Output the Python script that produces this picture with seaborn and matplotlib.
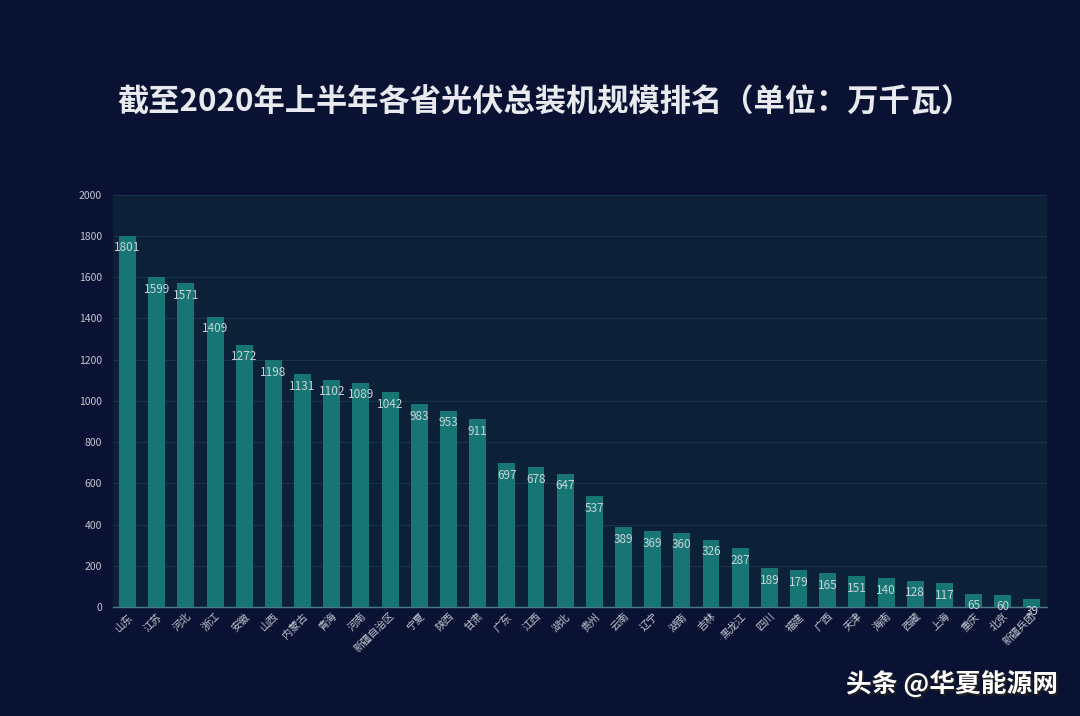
import matplotlib
matplotlib.use("Agg")
import matplotlib.pyplot as plt
import seaborn as sns
import pandas as pd

provinces = ["山东", "江苏", "河北", "浙江", "安徽", "山西", "内蒙古", "青海", "河南", "新疆自治区",
             "宁夏", "陕西", "甘肃", "广东", "江西", "湖北", "贵州", "云南", "辽宁", "湖南",
             "吉林", "黑龙江", "四川", "福建", "广西", "天津", "海南", "西藏", "上海", "重庆",
             "北京", "新疆兵团"]
capacity = [1801, 1599, 1571, 1409, 1272, 1198, 1131, 1102, 1089, 1042,
            983, 953, 911, 697, 678, 647, 537, 389, 369, 360,
            326, 287, 189, 179, 165, 151, 140, 128, 117, 65,
            60, 39]
y_ticks = [0, 200, 400, 600, 800, 1000, 1200, 1400, 1600, 1800, 2000]
title = "截至2020年上半年各省光伏总装机规模排名（单位：万千瓦）"
watermark = "头条 @华夏能源网"

sns.set_theme(style="dark")
plt.rcParams['font.family'] = ['Noto Sans CJK SC', 'DejaVu Sans']

df = pd.DataFrame({"province": provinces, "capacity": capacity})

fig = plt.figure(figsize=(10.8, 7.16), dpi=100, facecolor="#0a1233")
ax = fig.add_axes([0.1046, 0.152, 0.8644, 0.576])
ax.set_facecolor("#0c2038")

sns.barplot(data=df, x="province", y="capacity", color="#177674", width=0.58,
            saturation=1, linewidth=0, edgecolor="none", ax=ax, zorder=3)

for p, v in zip(ax.patches, capacity):
    ax.annotate(str(v), (p.get_x() + p.get_width() / 2, p.get_height()),
                xytext=(0, -4), textcoords="offset points", ha="center", va="top",
                fontsize=8.5, color="#c8d2d8", zorder=4)

ax.set_ylim(0, 2000)
ax.set_yticks(y_ticks)
ax.set_xlim(-0.5, len(provinces) - 0.5)
ax.yaxis.grid(True, color="#17344a", linewidth=0.8, zorder=0)
ax.xaxis.grid(False)
for s in ["top", "right", "left"]:
    ax.spines[s].set_visible(False)
ax.spines["bottom"].set_visible(True)
ax.spines["bottom"].set_color("#4a7a8a")
ax.spines["bottom"].set_linewidth(1)
ax.tick_params(axis="y", colors="#c0c8d0", labelsize=7.5, length=0, pad=8)
ax.tick_params(axis="x", colors="#c0c8d0", labelsize=7.5, length=0, pad=3)
ax.set_xticks(range(len(provinces)))
ax.set_xticklabels(provinces, rotation=45, ha="right", rotation_mode="anchor")
ax.set_xlabel("")
ax.set_ylabel("")

fig.text(117 / 1080, 1 - 103 / 716, title, fontsize=22.5, fontweight="bold",
         color="#e8eaf0", ha="left", va="center")
fig.text(1058 / 1080 + 0.0018, 1 - 684 / 716 - 0.003, watermark, fontsize=18.5, fontweight="bold",
         color="#202020", ha="right", va="center")
fig.text(1058 / 1080, 1 - 684 / 716, watermark, fontsize=18.5, fontweight="bold",
         color="#ffffff", ha="right", va="center")

fig.savefig("out.png", dpi=100, facecolor=fig.get_facecolor())
